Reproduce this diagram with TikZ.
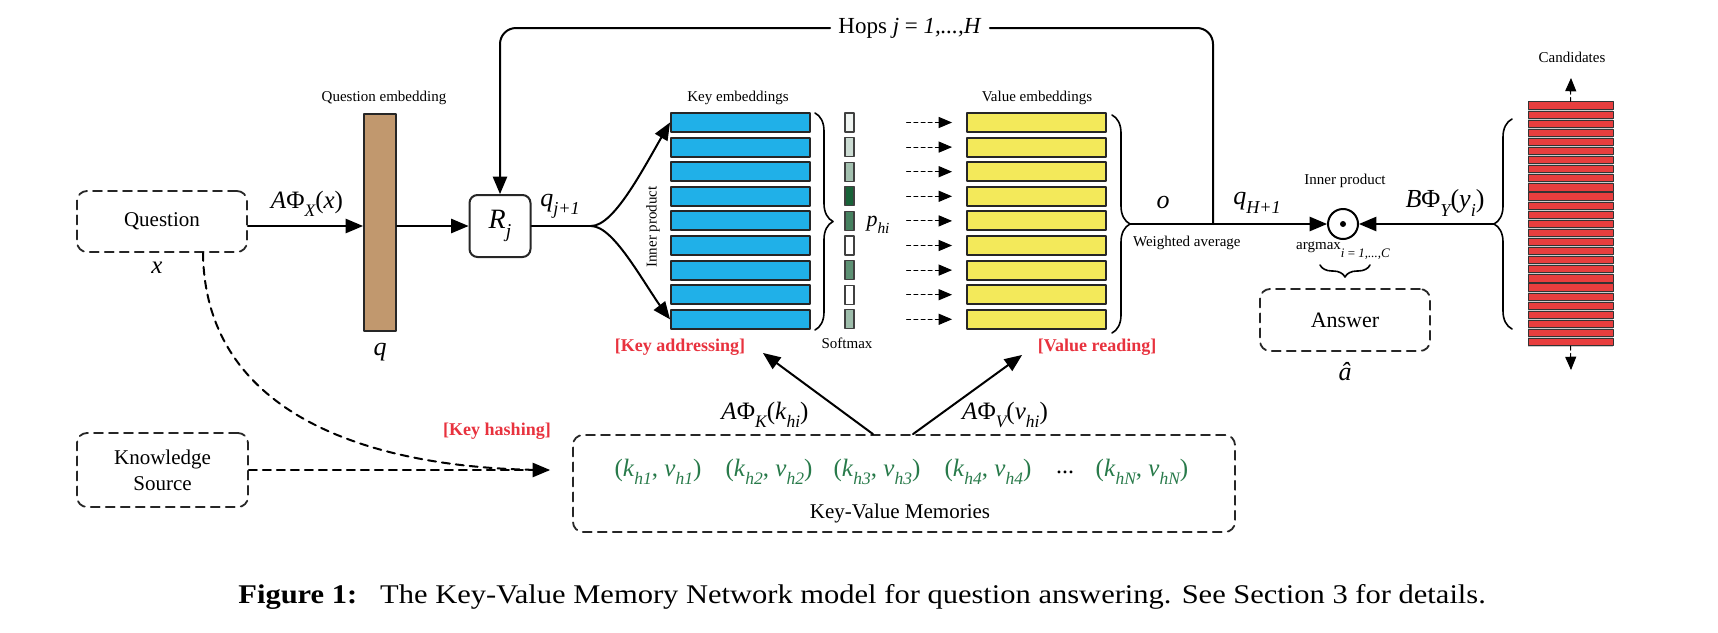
\documentclass[tikz,border=0pt]{standalone}
\usepackage{fontspec}
\setmainfont{Liberation Serif}
\usepackage{graphicx}
\usetikzlibrary{arrows}
\usetikzlibrary{decorations.pathreplacing}
\definecolor{qbrown}{RGB}{193,152,110}
\definecolor{kblue}{RGB}{32,176,232}
\definecolor{vyellow}{RGB}{243,233,90}
\definecolor{cred}{RGB}{232,62,62}
\definecolor{smgreen}{RGB}{24,98,56}
\definecolor{mgreen}{RGB}{40,122,74}
\definecolor{hred}{RGB}{232,50,62}
\newcommand{\sbs}[1]{\raisebox{-0.7ex}{\scalebox{0.7}{\itshape #1}}}
\newcommand{\fs}[1]{\fontsize{#1}{#1}\selectfont}

\begin{document}
\begin{tikzpicture}[x=0.5pt,y=-0.5pt,line cap=round,line join=round,>=triangle 45,
  dbox/.style={draw=black!85,dash pattern=on 4.5pt off 3pt,line width=0.9pt,rounded corners=5pt,inner sep=0pt},
  kbar/.style={draw=black!85,line width=1pt,fill=kblue,minimum width=69.5pt,minimum height=9.5pt,inner sep=0pt},
  vbar/.style={kbar,fill=vyellow},
  smbox/.style={draw=black!75,line width=0.6pt,minimum width=4.5pt,minimum height=9.5pt,inner sep=0pt},
  cbar/.style={draw=black!80,line width=0.5pt,fill=cred,minimum width=42.5pt,minimum height=3.6pt,inner sep=0pt},
  small/.style={font=\fs{7.5}},
  lab/.style={font=\fs{12.5}},
  tag/.style={font=\fs{9}\bfseries,text=hred},
  link/.style={line width=1pt,->},
  dots/.style={line width=0.5pt,->,dash pattern=on 2pt off 1.6pt},
  brc/.style={decorate,decoration={brace,amplitude=9pt},line width=0.8pt}]
  \useasboundingbox (0,0) rectangle (1718,632);

  \node[dbox,minimum width=85pt,minimum height=30.5pt,font=\fs{10.5}] (question) at (162,221.5) {Question};
  \node[lab] (xlab) at (157,268) {\textit{x}};
  \node[draw=black!85,line width=1pt,fill=qbrown,minimum width=16pt,minimum height=108.5pt,inner sep=0pt] (qemb) at (380,222.5) {};
  \node[small] (qemblab) at (384,98) {Question embedding};
  \node[font=\fs{13}] (qlab) at (380,352) {\textit{q}};
  \node[draw=black!85,line width=1pt,rounded corners=4pt,minimum width=30.5pt,minimum height=31pt,font=\fs{14}] (rj) at (500,226) {\textit{R}\sbs{j}};
  \node[lab] (axlab) at (307,204) {\textit{A}Φ\sbs{X}(\textit{x})};
  \draw[link] (question.east |- rj) -- (qemb.west |- rj);
  \draw[link] (qemb.east |- rj) -- (rj.west);
  \coordinate (split) at (591,226);
  \draw[line width=1pt] (rj.east) -- (split);
  \node[font=\fs{13}] (qjlab) at (560,206) {\textit{q}\sbs{j+1}};

  \foreach \i/\p in {1/7,2/22,3/40,4/100,5/80,6/0,7/70,8/0,9/42}{
    \node[kbar] (k\i) at (740.5,{122.5+(\i-1)*24.6}) {};
    \node[smbox,fill=smgreen!\p!white] (s\i) at (849.5,{122.5+(\i-1)*24.6}) {};
    \node[vbar] (v\i) at (1036.5,{122.5+(\i-1)*24.6}) {};
    \draw[dots,shorten <=26pt,shorten >=7pt] (s\i) -- (v\i);
  }
  \node[small] (klab) at (738,98) {Key embeddings};
  \node[small] (vlab) at (1037,98) {Value embeddings};
  \node[small,rotate=90] (iplab) at (653,227) {Inner product};
  \draw[link] (split) .. controls (615,226) and (645,165) .. (k1.west);
  \draw[link] (split) .. controls (615,226) and (645,287) .. (k9.west);
  \draw[brc] (815,113) -- (815,330);
  \node[font=\fs{11}] (plab) at (878,225) {\textit{p}\sbs{hi}};
  \node[small] (smlab) at (847,343) {Softmax};
  \draw[brc] (1112,115) -- (1112,333);
  \coordinate (vtip) at (1130,224);

  \node[circle,draw,line width=1pt,minimum size=15pt,inner sep=0pt] (ip) at (1343,224) {};
  \fill (ip.center) circle (1.5pt);
  \coordinate (hj) at (1213,224);
  \draw[link] (vtip) -- (ip.west);
  \node[font=\fs{13}] (olab) at (1163,202) {\textit{o}};
  \node[small,anchor=west] (walab) at (1126,243) {Weighted average};
  \node[font=\fs{13}] (qhlab) at (1257,203) {\textit{q}\sbs{H+1}};
  \node[font=\fs{11.5},inner sep=4pt] (hops) at (910,28) {Hops \textit{j} = \textit{1,...,H}};
  \draw[line width=1pt,rounded corners=8pt] (hj) |- (hops.east);
  \draw[link,rounded corners=8pt] (hops.west) -| (rj.north);

  \node[small] (iptlab) at (1345,181) {Inner product};
  \node[font=\fs{13}] (bylab) at (1445,203) {\textit{B}Φ\sbs{Y}(\textit{y}\sbs{i})};
  \node[inner sep=0pt] (amax) at (1343,251) {\fs{7.5}argmax\raisebox{-4pt}{\fs{6.5}\itshape i \textup{=} 1,...,C}};
  \draw[decorate,decoration={brace,amplitude=6pt},line width=0.8pt] (1370,265) -- (1320,265);
  \node[dbox,minimum width=85pt,minimum height=31pt,font=\fs{11}] (ans) at (1345,320) {Answer};
  \node[font=\fs{13}] (ahat) at (1345,372) {\textit{â}};

  \fill[black!20] (1528,101) rectangle (1613,347);
  \foreach \i in {1,...,27}
    \node[cbar] (c\i) at (1570.5,{105.5+(\i-1)*9.1}) {};
  \node[small] (clab) at (1572,57) {Candidates};
  \coordinate (cup) at (1571,78);
  \coordinate (cdown) at (1571,370);
  \draw[dots] (c1.north) -- (cup);
  \draw[dots] (c27.south) -- (cdown);
  \draw[brc] (1512,329) -- (1512,119);
  \coordinate (ctip) at (1494,224);
  \draw[link] (ctip) -- (ip.east);

  \node[dbox,minimum width=85.5pt,minimum height=37pt,align=center,font=\fontsize{10.5}{13}\selectfont] (ks) at (162.5,470) {Knowledge\\Source};
  \node[dbox,minimum width=331pt,minimum height=48.5pt] (kv) at (904,483.5) {};
  \coordinate (hash) at (550,470);
  \draw[link,dash pattern=on 4pt off 3pt] (ks.east) -- (hash);
  \draw[line width=1pt,dash pattern=on 4pt off 3pt] ([xshift=20.5pt]question.south) .. controls (205,420) and (380,470) .. (hash);
  \node[tag] (khash) at (497,431) {[Key hashing]};
  \node[tag] (kaddr) at (680,347) {[Key addressing]};
  \node[tag] (vread) at (1097,347) {[Value reading]};
  \coordinate (kin) at (763,353);
  \coordinate (vin) at (1022,355);
  \draw[link] ([xshift=-15.5pt]kv.north) -- (kin);
  \draw[link] ([xshift=4.5pt]kv.north) -- (vin);
  \node[lab] (aklab) at (765,415) {\textit{A}Φ\sbs{K}(\textit{k}\sbs{hi})};
  \node[lab] (avlab) at (1005,415) {\textit{A}Φ\sbs{V}(\textit{v}\sbs{hi})};
  \foreach \x/\n in {658/1,769/2,877/3,988/4}
    \node[font=\fs{12.5},text=mgreen] (pair\n) at (\x,472) {(\textit{k}\sbs{h\n}, \textit{v}\sbs{h\n})};
  \node[font=\fs{12}] (pairdots) at (1065,472) {...};
  \node[font=\fs{12.5},text=mgreen] (pairN) at (1142,472) {(\textit{k}\sbs{hN}, \textit{v}\sbs{hN})};
  \node[font=\fs{10.5}] (kvlab) at (900,513) {Key-Value Memories};

  \node[anchor=base west,font=\fs{13.5},inner sep=0pt] (caption) at (238,603) {\scalebox{1.13}[1]{\textbf{Figure 1:}\hspace{0.75em}The Key-Value Memory Network model for question answering. See Section 3 for details.}};
\end{tikzpicture}
\end{document}
